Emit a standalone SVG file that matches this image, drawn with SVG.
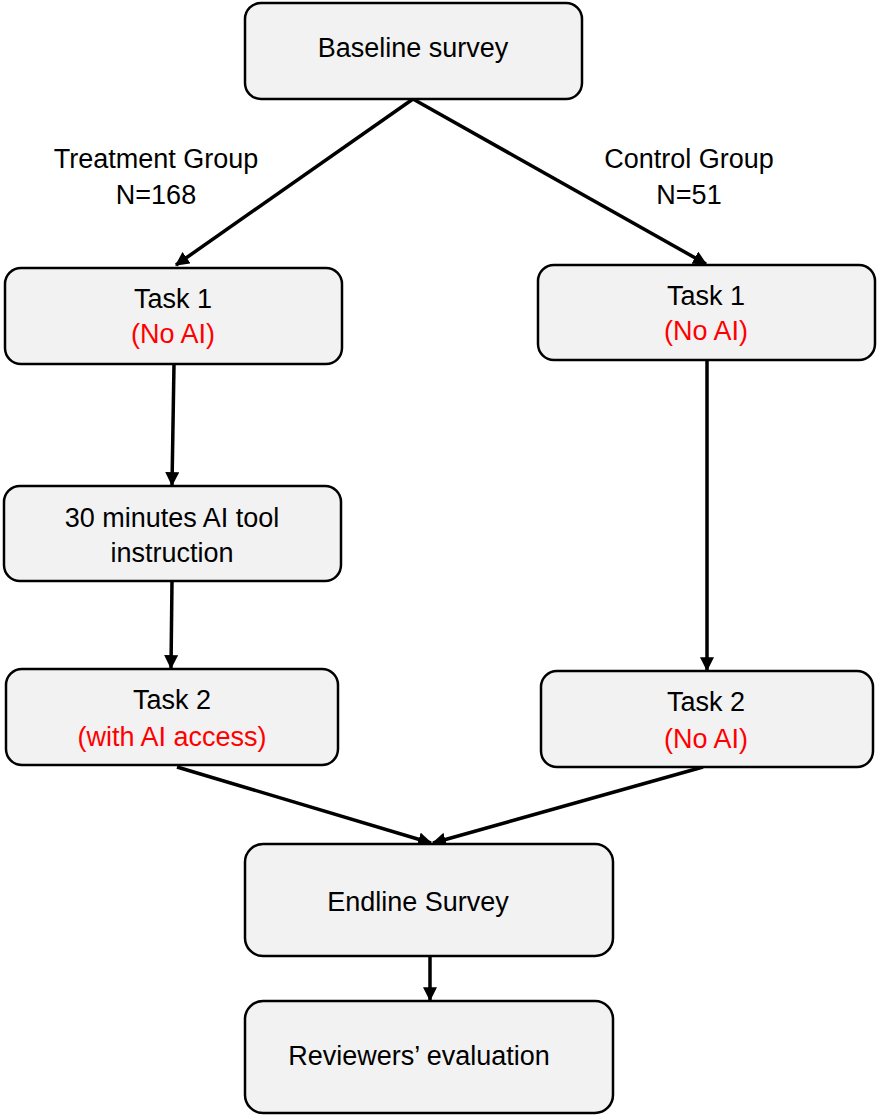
<svg xmlns="http://www.w3.org/2000/svg" width="878" height="1116" viewBox="0 0 878 1116">
<defs>
<style>
.box{fill:#f2f2f2;stroke:#000;stroke-width:2.5}
.t{font-family:"Liberation Sans",Arial,sans-serif;font-size:27px;fill:#000;text-anchor:middle}
.r{fill:#ff0000}
.c{stroke:#000;stroke-width:3.5;fill:none;marker-end:url(#ah)}
</style>
<marker id="ah" markerUnits="userSpaceOnUse" markerWidth="14" markerHeight="14" viewBox="0 0 12 12" refX="11" refY="6" orient="auto">
<path d="M0,0 L12,6 L0,12 Z" fill="#000"/>
</marker>
</defs>
<rect width="878" height="1116" fill="#fff"/>
<g id="connectors">
<line class="c" x1="413" y1="99" x2="176" y2="265"/>
<line class="c" x1="413" y1="99" x2="706" y2="264"/>
<line class="c" x1="174" y1="364" x2="172" y2="485"/>
<line class="c" x1="172" y1="581" x2="171" y2="668"/>
<line class="c" x1="707" y1="360" x2="707" y2="670"/>
<line class="c" x1="177" y1="767" x2="431" y2="843"/>
<line class="c" x1="703" y1="767" x2="433" y2="843"/>
<line class="c" x1="430" y1="956" x2="430" y2="1000"/>
</g>
<g id="baseline">
<rect class="box" x="245" y="3" width="337" height="96" rx="16"/>
<text class="t" x="413" y="57">Baseline survey</text>
</g>
<g id="treatment-label">
<text class="t" x="156" y="168">Treatment Group</text>
<text class="t" x="156" y="204">N=168</text>
</g>
<g id="control-label">
<text class="t" x="689" y="168">Control Group</text>
<text class="t" x="689" y="204">N=51</text>
</g>
<g id="task1-left">
<rect class="box" x="5" y="268" width="337" height="96" rx="16"/>
<text class="t" x="173" y="308">Task 1</text>
<text class="t r" x="173" y="343">(No AI)</text>
</g>
<g id="task1-right">
<rect class="box" x="538" y="265" width="337" height="95" rx="16"/>
<text class="t" x="706" y="305">Task 1</text>
<text class="t r" x="706" y="340">(No AI)</text>
</g>
<g id="instruction">
<rect class="box" x="4" y="486" width="337" height="95" rx="16"/>
<text class="t" x="172" y="527">30 minutes AI tool</text>
<text class="t" x="172" y="562">instruction</text>
</g>
<g id="task2-left">
<rect class="box" x="6" y="669" width="332" height="96" rx="16"/>
<text class="t" x="172" y="709">Task 2</text>
<text class="t r" x="172" y="746">(with AI access)</text>
</g>
<g id="task2-right">
<rect class="box" x="541" y="671" width="332" height="96" rx="16"/>
<text class="t" x="706" y="711">Task 2</text>
<text class="t r" x="706" y="748">(No AI)</text>
</g>
<g id="endline">
<rect class="box" x="245" y="844" width="368" height="112" rx="18"/>
<text class="t" x="418" y="911">Endline Survey</text>
</g>
<g id="reviewers">
<rect class="box" x="245" y="1001" width="368" height="112" rx="18"/>
<text class="t" x="419" y="1065">Reviewers’ evaluation</text>
</g>
</svg>
